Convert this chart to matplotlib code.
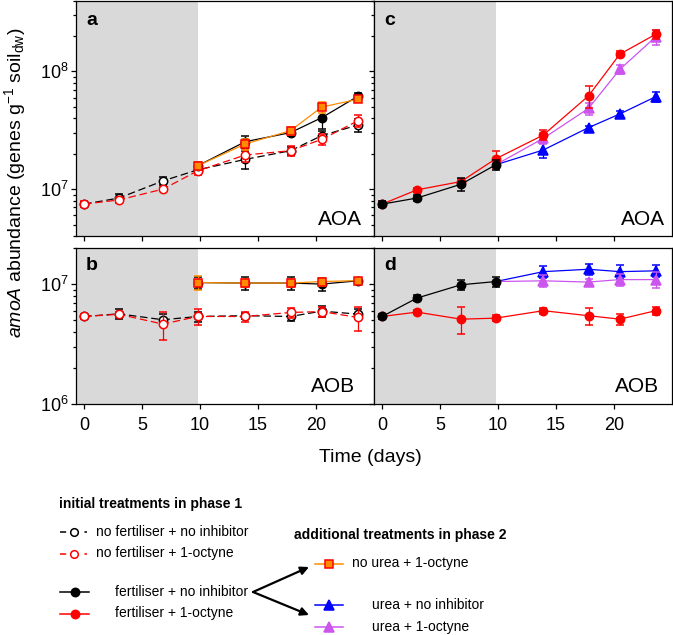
import matplotlib
matplotlib.use('Agg')
import matplotlib.pyplot as plt
from matplotlib.lines import Line2D
from matplotlib.ticker import LogLocator, NullFormatter

plt.rcParams['font.family'] = ['Liberation Sans', 'DejaVu Sans']
plt.rcParams['mathtext.fontset'] = 'custom'
plt.rcParams['mathtext.rm'] = 'Liberation Sans'
plt.rcParams['mathtext.it'] = 'Liberation Sans:italic'
plt.rcParams['mathtext.bf'] = 'Liberation Sans:bold'

# sampling days
days = [0, 3, 6.8, 9.8, 13.9, 17.8, 20.5, 23.6]
days_p1 = days[:4]
days_p2 = days[3:]

# ---- AOA (panels a, c) ----
aoa_nofert_noinh = [7.46e6, 8.4e6, 1.175e7, 1.46e7, 1.79e7, 2.12e7, 2.85e7, 3.5e7]
aoa_nofert_noinh_err = [0.3e6, 0.66e6, 0.93e6, 0.87e6, 3.0e6, 1.7e6, 2.8e6, 4.2e6]
aoa_nofert_oct = [7.46e6, 8.1e6, 1.0e7, 1.43e7, 1.95e7, 2.12e7, 2.65e7, 3.8e7]
aoa_nofert_oct_err = [0.45e6, 0.5e6, 0.4e6, 1.2e6, 2.4e6, 2.2e6, 2.7e6, 4.6e6]
aoa_fert_noinh_p2 = [1.58e7, 2.53e7, 3.02e7, 4.05e7, 6.14e7]
aoa_fert_noinh_p2_err = [1.3e6, 3.1e6, 1.8e6, 7.8e6, 3.7e6]
aoa_nourea_oct = [1.58e7, 2.42e7, 3.14e7, 4.98e7, 5.8e7]
aoa_nourea_oct_err = [1.3e6, 2.5e6, 2.5e6, 5.1e6, 3.5e6]

aoa_fert_noinh_p1 = [7.46e6, 8.4e6, 1.1e7, 1.61e7]
aoa_fert_noinh_p1_err = [0.45e6, 0.5e6, 1.4e6, 1.6e6]
aoa_fert_oct = [7.46e6, 9.86e6, 1.16e7, 1.81e7, 2.88e7, 6.2e7, 1.4e8, 2.07e8]
aoa_fert_oct_err = [0.45e6, 0.4e6, 0.7e6, 3.0e6, 2.9e6, 1.3e7, 8e6, 1.7e7]
aoa_urea_noinh = [1.61e7, 2.15e7, 3.33e7, 4.35e7, 6.1e7]
aoa_urea_noinh_err = [0, 3.1e6, 1.3e6, 2.6e6, 6e6]
aoa_urea_oct = [1.61e7, 2.7e7, 4.85e7, 1.04e8, 1.97e8]
aoa_urea_oct_err = [0, 2.7e6, 5.9e6, 8.5e6, 2.8e7]

# ---- AOB (panels b, d) ----
aob_nofert_noinh = [5.37e6, 5.65e6, 5.04e6, 5.37e6, 5.45e6, 5.37e6, 5.95e6, 5.62e6]
aob_nofert_noinh_err = [0.2e6, 0.55e6, 0.6e6, 0.5e6, 0.3e6, 0.4e6, 0.6e6, 0.55e6]
aob_nofert_oct = [5.37e6, 5.6e6, 4.64e6, 5.37e6, 5.37e6, 5.8e6, 5.9e6, 5.27e6]
aob_nofert_oct_err = [0.3e6, 0.3e6, 1.2e6, 0.85e6, 0.5e6, 0.55e6, 0.55e6, 1.2e6]
aob_fert_noinh_p2 = [1.03e7, 1.02e7, 1.02e7, 1.0e7, 1.065e7]
aob_fert_noinh_p2_err = [1.2e6, 1.2e6, 1.2e6, 1.2e6, 0.6e6]
aob_nourea_oct = [1.03e7, 1.02e7, 1.02e7, 1.05e7, 1.07e7]
aob_nourea_oct_err = [1.4e6, 0.8e6, 0.8e6, 0.8e6, 0.6e6]

aob_fert_noinh_p1 = [5.37e6, 7.64e6, 9.87e6, 1.05e7]
aob_fert_noinh_p1_err = [0.3e6, 0.4e6, 0.95e6, 1.0e6]
aob_fert_oct = [5.37e6, 5.84e6, 5.1e6, 5.2e6, 6.0e6, 5.45e6, 5.1e6, 6.0e6]
aob_fert_oct_err = [0.3e6, 0.25e6, 1.3e6, 0.3e6, 0.35e6, 0.85e6, 0.5e6, 0.45e6]
aob_urea_noinh = [1.05e7, 1.27e7, 1.33e7, 1.27e7, 1.29e7]
aob_urea_noinh_err = [1.0e6, 1.5e6, 1.3e6, 1.7e6, 1.5e6]
aob_urea_oct = [1.05e7, 1.065e7, 1.04e7, 1.09e7, 1.09e7]
aob_urea_oct_err = [1.0e6, 1.2e6, 0.6e6, 1.3e6, 1.7e6]

BLACK = 'black'
RED = '#ff0000'
ORANGE = '#ff8c00'
BLUE = '#0000ff'
VIOLET = '#cc55ee'
GREY = '#d9d9d9'

W, H = 673, 635


def box(l, t, r, b):
    return [l / W, 1 - b / H, (r - l) / W, (b - t) / H]


def fx(px):
    return px / W


def fy(py):
    return 1 - py / H


def series(ax, x, y, err, color, marker, mfc, ls='-', mec=None, ms=6, z=3, first=0):
    # connecting line over all points, markers / error bars from index `first`
    ax.plot(x, y, color=color, ls=ls, lw=0.9, zorder=z,
            dashes=(6, 3) if ls == '--' else (None, None))
    ax.errorbar(x[first:], y[first:], yerr=err[first:], fmt=marker, color=color,
                mfc=mfc, mec=mec or color, ms=ms, mew=1.1, ecolor=color,
                elinewidth=0.9, capsize=3, capthick=0.9, zorder=z + 0.1)


fig = plt.figure(figsize=(6.73, 6.35), dpi=100)
ax_a = fig.add_axes(box(76, 0.5, 374, 236))
ax_c = fig.add_axes(box(374, 0.5, 672, 236))
ax_b = fig.add_axes(box(76, 248, 374, 404))
ax_d = fig.add_axes(box(374, 248, 672, 404))

for ax in (ax_a, ax_b, ax_c, ax_d):
    ax.set_yscale('log')
    ax.set_xlim(-0.7, 25)
    ax.axvspan(-0.7, 9.8, color=GREY, lw=0, zorder=0)
    ax.set_xticks([0, 5, 10, 15, 20])
    ax.yaxis.set_minor_locator(LogLocator(base=10, subs=range(2, 10)))
    ax.yaxis.set_minor_formatter(NullFormatter())
    ax.tick_params(which='both', direction='out', top=False, right=False,
                   labelsize=13, width=0.9)
    ax.tick_params(which='major', length=3.4)
    ax.tick_params(which='minor', length=2)
    ax.tick_params(axis='x', pad=6)
    ax.tick_params(axis='y', pad=2)
    for s in ax.spines.values():
        s.set_linewidth(0.9)

for ax in (ax_a, ax_c):
    ax.set_ylim(4e6, 4e8)
    ax.tick_params(labelbottom=False)
for ax in (ax_b, ax_d):
    ax.set_ylim(1e6, 2e7)
for ax in (ax_c, ax_d):
    ax.tick_params(labelleft=False)

# panel a
series(ax_a, days, aoa_nofert_noinh, aoa_nofert_noinh_err, BLACK, 'o', 'white', ls='--', z=3)
series(ax_a, days, aoa_nofert_oct, aoa_nofert_oct_err, RED, 'o', 'white', ls='--', z=4)
series(ax_a, days_p2, aoa_fert_noinh_p2, aoa_fert_noinh_p2_err, BLACK, 'o', BLACK, z=5)
series(ax_a, days_p2, aoa_nourea_oct, aoa_nourea_oct_err, ORANGE, 's', ORANGE, mec=RED, ms=5.5, z=6)

# panel b
series(ax_b, days, aob_nofert_noinh, aob_nofert_noinh_err, BLACK, 'o', 'white', ls='--', z=3)
series(ax_b, days, aob_nofert_oct, aob_nofert_oct_err, RED, 'o', 'white', ls='--', z=4)
series(ax_b, days_p2, aob_fert_noinh_p2, aob_fert_noinh_p2_err, BLACK, 'o', BLACK, z=5)
series(ax_b, days_p2, aob_nourea_oct, aob_nourea_oct_err, ORANGE, 's', ORANGE, mec=RED, ms=5.5, z=6)

# panel c
series(ax_c, days_p2, aoa_urea_noinh, aoa_urea_noinh_err, BLUE, '^', BLUE, ms=7, z=3, first=1)
series(ax_c, days_p2, aoa_urea_oct, aoa_urea_oct_err, VIOLET, '^', VIOLET, ms=7, z=4, first=1)
series(ax_c, days, aoa_fert_oct, aoa_fert_oct_err, RED, 'o', RED, z=5)
series(ax_c, days_p1, aoa_fert_noinh_p1, aoa_fert_noinh_p1_err, BLACK, 'o', BLACK, z=6)

# panel d
series(ax_d, days_p2, aob_urea_noinh, aob_urea_noinh_err, BLUE, '^', BLUE, ms=7, z=3, first=1)
series(ax_d, days_p2, aob_urea_oct, aob_urea_oct_err, VIOLET, '^', VIOLET, ms=7, z=4, first=1)
series(ax_d, days, aob_fert_oct, aob_fert_oct_err, RED, 'o', RED, z=5)
series(ax_d, days_p1, aob_fert_noinh_p1, aob_fert_noinh_p1_err, BLACK, 'o', BLACK, z=6)

# panel letters and group names
for ax, letter in ((ax_a, 'a'), (ax_b, 'b'), (ax_c, 'c'), (ax_d, 'd')):
    ax.text(0.034, 0.915 if ax in (ax_a, ax_c) else 0.89, letter, transform=ax.transAxes,
            fontsize=14, fontweight='bold', va='center', ha='left')
ax_a.text(0.96, 0.07, 'AOA', transform=ax_a.transAxes, fontsize=15, ha='right', va='center')
ax_c.text(0.975, 0.07, 'AOA', transform=ax_c.transAxes, fontsize=15, ha='right', va='center')
ax_b.text(0.935, 0.11, 'AOB', transform=ax_b.transAxes, fontsize=15, ha='right', va='center')
ax_d.text(0.955, 0.11, 'AOB', transform=ax_d.transAxes, fontsize=15, ha='right', va='center')

fig.text(fx(370), fy(457), 'Time (days)', fontsize=14, ha='center', va='center')
fig.text(fx(15), fy(183), r'$\it{amoA}$ abundance (genes g$^{-1}$ soil$_{\rm dw}$)',
         fontsize=14, rotation=90, ha='center', va='center')

# ---- custom legend ----
fig.text(fx(59), fy(504), 'initial treatments in phase 1', fontsize=10,
         fontweight='bold', ha='left', va='center')
fig.text(fx(294), fy(535), 'additional treatments in phase 2', fontsize=10,
         fontweight='bold', ha='left', va='center')


def legend_item(x0, x1, y, color, ls, marker, mfc, mec, ms, label, tx):
    fig.add_artist(Line2D([fx(x0), fx(x1)], [fy(y), fy(y)], color=color, lw=1.1,
                          ls=ls, dashes=(4, 4) if ls == '--' else (None, None)))
    fig.add_artist(Line2D([fx((x0 + x1) / 2)], [fy(y)], marker=marker, mfc=mfc,
                          mec=mec, ms=ms, mew=1.1, ls='none'))
    fig.text(fx(tx), fy(y), label, fontsize=10, ha='left', va='center')


legend_item(60, 87, 532, BLACK, '--', 'o', 'white', BLACK, 5.5, 'no fertiliser + no inhibitor', 95.5)
legend_item(60, 87, 553.5, RED, '--', 'o', 'white', RED, 5.5, 'no fertiliser + 1-octyne', 95.5)
legend_item(60, 89, 592, BLACK, '-', 'o', BLACK, BLACK, 6, 'fertiliser + no inhibitor', 115)
legend_item(60, 89, 613.5, RED, '-', 'o', RED, RED, 6, 'fertiliser + 1-octyne', 115)
legend_item(315, 343, 563.5, ORANGE, '-', 's', ORANGE, RED, 6, 'no urea + 1-octyne', 351.5)
legend_item(315, 343, 605, BLUE, '-', '^', BLUE, BLUE, 7.5, 'urea + no inhibitor', 371.5)
legend_item(315, 343, 626.5, VIOLET, '-', '^', VIOLET, VIOLET, 7.5, 'urea + 1-octyne', 371.5)

for ty in (567, 615):
    fig.add_artist(matplotlib.patches.FancyArrowPatch(
        (fx(253), fy(592)), (fx(309), fy(ty)), transform=fig.transFigure,
        arrowstyle='-|>', mutation_scale=12, color='black', lw=1.6,
        shrinkA=0, shrinkB=0))

fig.savefig('out.png', dpi=100)
